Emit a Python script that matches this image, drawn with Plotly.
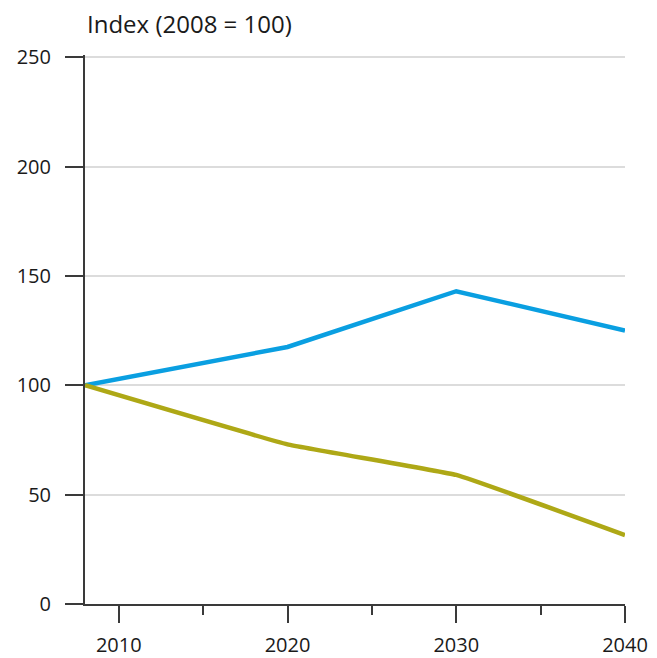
import plotly.graph_objects as go

# Index values (2008 = 100)
years = [2008, 2020, 2030, 2040]
series_blue = [100, 117.5, 143, 125]
series_olive = [100, 73, 59, 31.5]

y_ticks = [0, 50, 100, 150, 200, 250]
x_ticks = [2010, 2020, 2030, 2040]

BLUE = "#0a9fe1"
OLIVE = "#aea816"
AXIS = "#3a3a3a"
GRID = "#dcdcdc"
FONT = "Open Sans"

fig = go.Figure()
fig.add_trace(go.Scatter(
    x=years, y=series_blue, mode="lines",
    line=dict(color=BLUE, width=4.5), showlegend=False,
))
fig.add_trace(go.Scatter(
    x=years, y=series_olive, mode="lines",
    line=dict(color=OLIVE, width=4.5, shape="spline", smoothing=0.25),
    showlegend=False,
))

fig.update_layout(
    width=657, height=658,
    margin=dict(l=85, r=32, t=55, b=54, autoexpand=False),
    paper_bgcolor="white", plot_bgcolor="white",
    font=dict(family=FONT, size=20, color="#1a1a1a"),
    annotations=[dict(
        text="Index (2008 = 100)", xref="paper", yref="paper",
        x=0, y=1, xanchor="left", yanchor="bottom", yshift=13,
        showarrow=False, font=dict(family=FONT, size=24, color="#1a1a1a"),
    )],
)

fig.update_xaxes(
    range=[2008, 2040], tickvals=x_ticks, ticktext=[str(v) for v in x_ticks],
    showgrid=False, zeroline=False, automargin=False,
    showline=True, linecolor=AXIS, linewidth=2,
    ticks="outside", ticklen=17, tickwidth=1.5, tickcolor=AXIS,
    ticklabelstandoff=5,
    minor=dict(tickvals=[2015, 2025, 2035], ticks="outside", ticklen=9,
               tickwidth=1.5, tickcolor=AXIS, showgrid=False),
)
fig.update_yaxes(
    range=[0, 251], tickvals=y_ticks, ticktext=[str(v) for v in y_ticks],
    showgrid=True, gridcolor=GRID, gridwidth=1.5, zeroline=False,
    automargin=False,
    showline=True, linecolor=AXIS, linewidth=2,
    ticks="outside", ticklen=18, tickwidth=1.5, tickcolor=AXIS,
    ticklabelstandoff=10,
)

fig.write_html("out.html")
